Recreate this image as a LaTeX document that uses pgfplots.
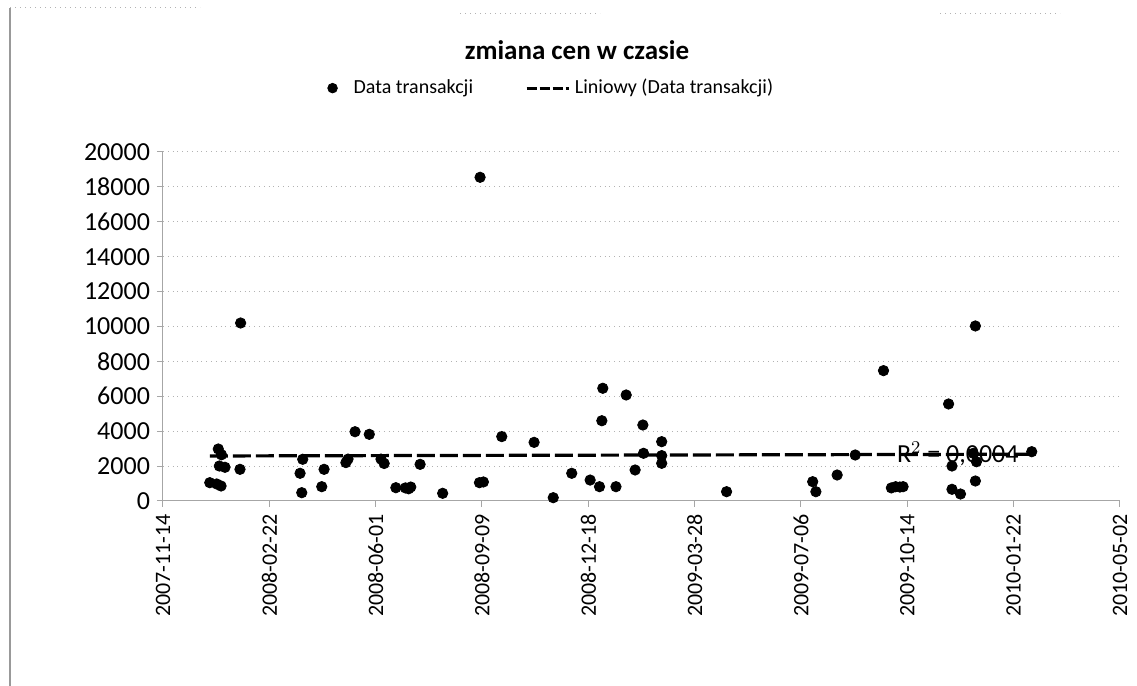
\documentclass[border=0pt]{standalone}
\usepackage{pgfplots}
\pgfplotsset{compat=1.18}
\usepackage{fontspec}
\setmainfont{Carlito}
\pgfplotstableread{
day val
44 1050
50.5 975
54.6 860
53 2005
58.3 1930
52 2980
55 2650
72.4 1815
73 10200
128.9 1587
130.5 476
131.4 2390
149.3 820
151.5 1815
172 2200
174 2400
180.6 3970
194 3820
205 2400
208 2150
219 762
228 750
231 700
233 800
241.8 2100
263 440
297.6 1050
301.3 1090
298.2 18550
318.6 3690
349 3360
367 190
384.4 1587
401.7 1200
410.5 820
412.7 4600
413.6 6460
426 820
435.6 6075
444 1777
451.3 4355
451.9 2733
469 3400
469 2160
469 2600
530 533
611 1106
614 533
634 1490
651 2636
677.6 7470
685 750
689 820
693 800
696 820
738.8 5560
742 2005
742 670
750 400
764 1146
762 2733
765 2250
764 10030
817 2825
}\pts
\begin{document}
\begin{tikzpicture}
\path[use as bounding box] (0,0) rectangle (568.5pt,343pt);
\draw[gray!80, line width=0.6pt] (5pt,0) -- (5pt,339pt);
\draw[gray!60, line width=0.5pt, dotted] (5pt,339pt) -- (100pt,339pt);
\draw[gray!60, line width=0.5pt, dotted] (230pt,336pt) -- (300pt,336pt);
\draw[gray!60, line width=0.5pt, dotted] (470pt,336pt) -- (530pt,336pt);
\node[font=\bfseries\fontsize{13.5}{15}\selectfont] at (288.5pt,318pt) {zmiana cen w czasie};
\begin{axis}[
  at={(81.5pt,92.5pt)}, anchor=south west, scale only axis,
  width=478.5pt, height=174.5pt,
  xmin=0, xmax=900, ymin=0, ymax=20000,
  axis x line=bottom, axis y line=left,
  axis line style={-, gray!70, line width=0.5pt},
  xtick={0,100,...,900},
  xticklabels={2007-11-14,2008-02-22,2008-06-01,2008-09-09,2008-12-18,2009-03-28,2009-07-06,2009-10-14,2010-01-22,2010-05-02},
  x tick label style={rotate=90, anchor=east, font=\fontsize{11}{12}\selectfont},
  ytick={0,2000,...,20000},
  scaled y ticks=false,
  yticklabel style={font=\fontsize{13}{14}\selectfont},
  /pgf/number format/.cd, fixed, 1000 sep={}, assume math mode=true,
  /pgfplots/.cd,
  tick align=outside, major tick length=3pt,
  tick style={gray!70, line width=0.5pt},
  ymajorgrids, grid style={gray!60, dotted, line width=0.5pt},
  legend style={at={(0.405,1.183)}, anchor=center, draw=none, fill=none,
    legend columns=2, font=\fontsize{10}{12}\selectfont,
    /tikz/every even column/.append style={column sep=24pt}},
  clip=false,
]
\addplot[only marks, mark=*, mark size=2.6pt, black,
  legend image code/.code={\path[draw=none] (-0.15cm,0cm) -- (0.3cm,0cm); \fill[black] (0cm,0cm) circle (2.4pt);}]
  table[x=day, y=val] {\pts};
\addlegendentry{Data transakcji}
\addplot[black, line width=1.6pt, dash pattern=on 9pt off 2.5pt,
  legend image code/.code={\draw[black, line width=1.6pt, dash pattern=on 5pt off 1.5pt] (0cm,0cm) -- (0.75cm,0cm);}]
  coordinates {(44,2580) (817,2680)};
\addlegendentry{Liniowy (Data transakcji)}
\node[anchor=west, font=\fontsize{13}{14}\selectfont, inner sep=0pt] at (axis cs:690,2700) {R$^2$ = 0,0004};
\end{axis}
\end{tikzpicture}
\end{document}
